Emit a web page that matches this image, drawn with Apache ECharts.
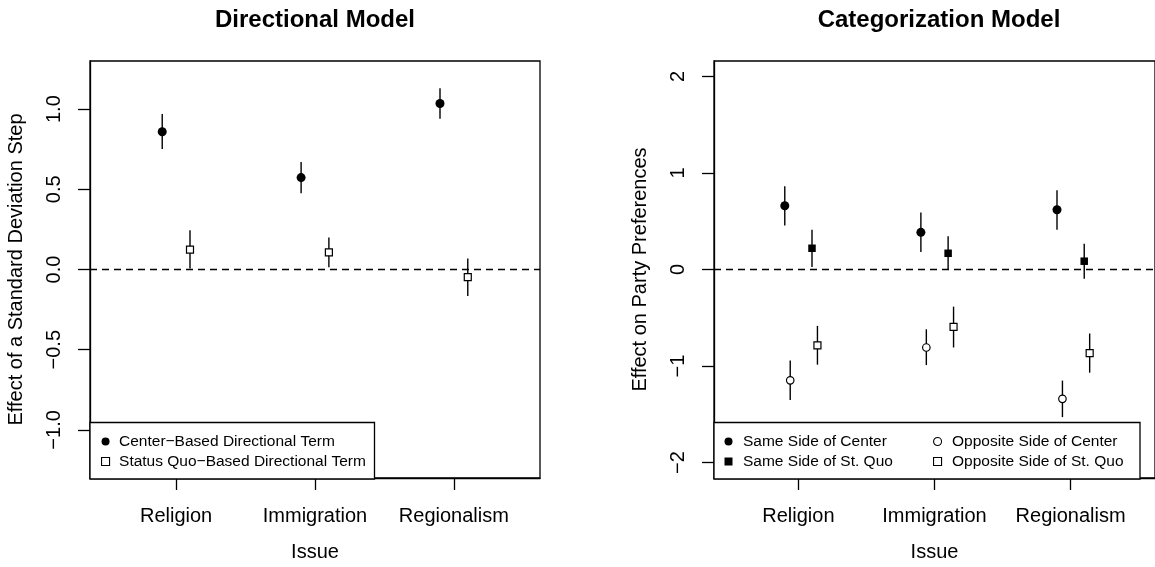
<!DOCTYPE html>
<html>
<head>
<meta charset="utf-8">
<script src="https://cdn.jsdelivr.net/npm/echarts@6.0.0/dist/echarts.min.js"></script>
<style>
html,body{margin:0;padding:0;background:#fff;}
#chart{width:1155px;height:567px;}
</style>
</head>
<body>
<div id="chart"></div>
<script>
// ---- data ----
const categories = ['Religion', 'Immigration', 'Regionalism'];
const categoryPositions = [1, 2, 3];

// Directional model
const dirCenterEst = [0.859, 0.573, 1.035];
const dirCenterLo  = [0.752, 0.476, 0.940];
const dirCenterHi  = [0.969, 0.671, 1.130];
const dirSQEst = [0.124, 0.107, -0.048];
const dirSQLo  = [0.006, 0.014, -0.166];
const dirSQHi  = [0.244, 0.200, 0.068];

// Categorization model
const sameCenterEst = [0.660, 0.385, 0.619];
const sameCenterLo  = [0.457, 0.182, 0.412];
const sameCenterHi  = [0.863, 0.591, 0.821];
const sameSQEst = [0.220, 0.168, 0.086];
const sameSQLo  = [0.027, -0.005, -0.096];
const sameSQHi  = [0.412, 0.344, 0.268];
const oppCenterEst = [-1.148, -0.808, -1.340];
const oppCenterLo  = [-1.351, -0.990, -1.529];
const oppCenterHi  = [-0.942, -0.619, -1.151];
const oppSQEst = [-0.787, -0.595, -0.866];
const oppSQLo  = [-0.986, -0.808, -1.069];
const oppSQHi  = [-0.584, -0.385, -0.663];

const leftTicks = [-1, -0.5, 0, 0.5, 1];
const rightTicks = [-2, -1, 0, 1, 2];

const seriesNames = {
  dirC: 'Center\u2212Based Directional Term',
  dirS: 'Status Quo\u2212Based Directional Term',
  sameC: 'Same Side of Center',
  sameS: 'Same Side of St. Quo',
  oppC: 'Opposite Side of Center',
  oppS: 'Opposite Side of St. Quo'
};

// ---- helpers ----
const FONT = 'Liberation Sans, Arial, Helvetica, sans-serif';
const minus = s => String(s).replace('-', '\u2212');

function errSeries(idx, offset, lo, hi) {
  return {
    type: 'custom', xAxisIndex: idx, yAxisIndex: idx, silent: true, z: 1,
    data: categoryPositions.map((p, i) => [p + offset, lo[i], hi[i]]),
    encode: { x: 0, y: [1, 2] },
    renderItem: function (params, api) {
      const a = api.coord([api.value(0), api.value(1)]);
      const b = api.coord([api.value(0), api.value(2)]);
      return { type: 'line', shape: { x1: a[0], y1: a[1], x2: b[0], y2: b[1] },
               style: { stroke: '#000', lineWidth: 1.4 } };
    }
  };
}
function ptSeries(idx, name, offset, est, symbol, filled, size) {
  return {
    type: 'scatter', name: name, xAxisIndex: idx, yAxisIndex: idx, z: 3,
    symbol: symbol, symbolSize: size, silent: true,
    itemStyle: filled ? { color: '#000', borderColor: '#000', borderWidth: 0, opacity: 1 }
                      : { color: '#fff', borderColor: '#000', borderWidth: 1.2, opacity: 1 },
    data: categoryPositions.map((p, i) => [p + offset, est[i]])
  };
}
function zeroLine() {
  return { silent: true, symbol: 'none', label: { show: false },
           lineStyle: { type: [7, 5], color: '#000', width: 1.3 },
           data: [{ yAxis: 0 }] };
}
function xAxisDef(idx) {
  return {
    type: 'value', gridIndex: idx, min: 0.38, max: 3.62,
    name: 'Issue', nameLocation: 'middle', nameGap: 64,
    nameTextStyle: { fontFamily: FONT, fontSize: 20, color: '#000' },
    axisLine: { show: true, onZero: false, lineStyle: { color: '#000', width: 1.3 } },
    axisTick: { show: true, customValues: categoryPositions, length: 12, lineStyle: { color: '#000', width: 1.3 } },
    axisLabel: { customValues: categoryPositions, margin: 28, fontFamily: FONT, fontSize: 20, color: '#000',
                 formatter: v => categories[categoryPositions.indexOf(Math.round(v))] },
    splitLine: { show: false }
  };
}
function yAxisDef(idx, lim, ticks, name, fmt) {
  return {
    type: 'value', gridIndex: idx, min: -lim, max: lim,
    name: name, nameLocation: 'middle', nameGap: 64,
    nameTextStyle: { fontFamily: FONT, fontSize: 20, color: '#000' },
    axisLine: { show: true, onZero: false, lineStyle: { color: '#000', width: 1.3 } },
    axisTick: { show: true, customValues: ticks, length: 12, lineStyle: { color: '#000', width: 1.3 } },
    axisLabel: { customValues: ticks, rotate: 90, margin: 26, fontFamily: FONT, fontSize: 20, color: '#000',
                 formatter: fmt },
    splitLine: { show: false }
  };
}
function legendDef(left, top, textPad, items) {
  return {
    left: left, top: top, orient: 'vertical', padding: 0, z: 60,
    itemWidth: 8, itemHeight: 8, itemGap: 4, selectedMode: false,
    textStyle: { fontFamily: FONT, fontSize: 15.5, lineHeight: 15, color: '#000', padding: [0, 0, 0, textPad] },
    data: items
  };
}

const chart = echarts.init(document.getElementById('chart'), null, { renderer: 'canvas' });
const option = {
  animation: false,
  backgroundColor: '#fff',
  title: [
    { text: 'Directional Model', left: 315, top: 8, textAlign: 'center', padding: 0,
      textStyle: { fontFamily: FONT, fontSize: 24, fontWeight: 'bold', color: '#000' } },
    { text: 'Categorization Model', left: 939, top: 8, textAlign: 'center', padding: 0,
      textStyle: { fontFamily: FONT, fontSize: 24, fontWeight: 'bold', color: '#000' } }
  ],
  grid: [
    { left: 90, top: 61, width: 450, height: 418, show: true, borderColor: '#000', borderWidth: 1.3, backgroundColor: 'transparent' },
    { left: 714, top: 61, width: 450, height: 418, show: true, borderColor: '#000', borderWidth: 1.3, backgroundColor: 'transparent' }
  ],
  xAxis: [xAxisDef(0), xAxisDef(1)],
  yAxis: [
    yAxisDef(0, 1.3, leftTicks, 'Effect of a Standard Deviation Step', v => minus(v.toFixed(1))),
    yAxisDef(1, 2.16, rightTicks, 'Effect on Party Preferences', v => minus(v.toFixed(0)))
  ],
  legend: [
    legendDef(101, 433.5, 4.5, [
      { name: seriesNames.dirC, icon: 'circle', itemStyle: { color: '#000', borderWidth: 0 } },
      { name: seriesNames.dirS, icon: 'rect', itemStyle: { color: '#fff', borderColor: '#000', borderWidth: 1.1 } }
    ]),
    legendDef(724.5, 433.5, 5.5, [
      { name: seriesNames.sameC, icon: 'circle', itemStyle: { color: '#000', borderWidth: 0 } },
      { name: seriesNames.sameS, icon: 'rect', itemStyle: { color: '#000', borderWidth: 0 } }
    ]),
    legendDef(933, 433.5, 5.5, [
      { name: seriesNames.oppC, icon: 'circle', itemStyle: { color: '#fff', borderColor: '#000', borderWidth: 1.1 } },
      { name: seriesNames.oppS, icon: 'rect', itemStyle: { color: '#fff', borderColor: '#000', borderWidth: 1.1 } }
    ])
  ],
  graphic: [
    { type: 'rect', z: 50, silent: true, shape: { x: 90, y: 422.5, width: 284.5, height: 56.5 },
      style: { fill: '#fff', stroke: '#000', lineWidth: 1.3 } },
    { type: 'rect', z: 50, silent: true, shape: { x: 714, y: 422.5, width: 426, height: 56.5 },
      style: { fill: '#fff', stroke: '#000', lineWidth: 1.3 } }
  ],
  series: [
    errSeries(0, -0.1, dirCenterLo, dirCenterHi),
    errSeries(0, 0.1, dirSQLo, dirSQHi),
    Object.assign(ptSeries(0, seriesNames.dirC, -0.1, dirCenterEst, 'circle', true, 9), { markLine: zeroLine() }),
    ptSeries(0, seriesNames.dirS, 0.1, dirSQEst, 'rect', false, 7),

    errSeries(1, -0.1, sameCenterLo, sameCenterHi),
    errSeries(1, 0.1, sameSQLo, sameSQHi),
    errSeries(1, -0.06, oppCenterLo, oppCenterHi),
    errSeries(1, 0.14, oppSQLo, oppSQHi),
    Object.assign(ptSeries(1, seriesNames.sameC, -0.1, sameCenterEst, 'circle', true, 9), { markLine: zeroLine() }),
    ptSeries(1, seriesNames.sameS, 0.1, sameSQEst, 'rect', true, 7.5),
    ptSeries(1, seriesNames.oppC, -0.06, oppCenterEst, 'circle', false, 7.5),
    ptSeries(1, seriesNames.oppS, 0.14, oppSQEst, 'rect', false, 7)
  ]
};
chart.setOption(option);
</script>
</body>
</html>
